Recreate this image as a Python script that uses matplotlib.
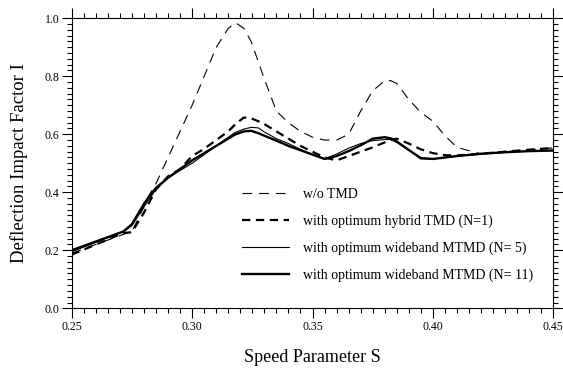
import numpy as np
import matplotlib
matplotlib.use("Agg")
from matplotlib import pyplot as plt
from matplotlib.ticker import MultipleLocator, FormatStrFormatter

plt.rcParams['font.family'] = ['Liberation Serif', 'DejaVu Serif']
plt.rcParams['lines.scale_dashes'] = False

# speed parameter S
S = [0.25, 0.2715, 0.275, 0.28, 0.2825, 0.285, 0.29, 0.295, 0.30, 0.305,
     0.31, 0.315, 0.318, 0.3215, 0.3245, 0.3275, 0.33, 0.335, 0.34, 0.345,
     0.35, 0.355, 0.36, 0.365, 0.37, 0.375, 0.38, 0.3825, 0.385, 0.39,
     0.395, 0.40, 0.405, 0.41, 0.42, 0.43, 0.44, 0.45]

no_tmd = [0.19, 0.255, 0.265, 0.35, 0.395, 0.43, 0.52, 0.61, 0.70, 0.80,
          0.90, 0.965, 0.985, 0.965, 0.92, 0.85, 0.79, 0.68, 0.64, 0.61,
          0.59, 0.58, 0.58, 0.60, 0.68, 0.75, 0.785, 0.785, 0.775, 0.72,
          0.675, 0.645, 0.595, 0.555, 0.532, 0.54, 0.547, 0.553]

hybrid_n1 = [0.185, 0.26, 0.262, 0.33, 0.37, 0.41, 0.455, 0.48, 0.525, 0.55,
             0.58, 0.61, 0.635, 0.658, 0.655, 0.645, 0.635, 0.61, 0.585, 0.56,
             0.54, 0.52, 0.51, 0.525, 0.54, 0.555, 0.572, 0.58, 0.585, 0.568,
             0.548, 0.535, 0.528, 0.527, 0.533, 0.54, 0.547, 0.553]

mtmd_n5 = [0.195, 0.265, 0.285, 0.35, 0.38, 0.41, 0.45, 0.475, 0.50, 0.53,
           0.56, 0.59, 0.607, 0.618, 0.624, 0.622, 0.608, 0.585, 0.568, 0.548,
           0.53, 0.515, 0.532, 0.552, 0.568, 0.578, 0.582, 0.582, 0.572, 0.545,
           0.52, 0.515, 0.52, 0.525, 0.532, 0.538, 0.542, 0.545]

mtmd_n11 = [0.2, 0.265, 0.29, 0.36, 0.39, 0.415, 0.45, 0.48, 0.51, 0.535,
            0.56, 0.585, 0.60, 0.61, 0.612, 0.604, 0.595, 0.578, 0.56, 0.545,
            0.53, 0.515, 0.525, 0.542, 0.562, 0.585, 0.59, 0.586, 0.575, 0.546,
            0.517, 0.515, 0.52, 0.525, 0.533, 0.538, 0.542, 0.544]

labels = ["w/o TMD",
          "with optimum hybrid TMD (N=1)",
          "with optimum wideband MTMD (N= 5)",
          "with optimum wideband MTMD (N= 11)"]

fig = plt.figure(figsize=(5.63, 3.71), dpi=100)
ax = fig.add_axes([0.1274, 0.169, 0.8554, 0.7817])

ax.plot(S, no_tmd, color='black', lw=0.8, dashes=(7, 5), label=labels[0])
ax.plot(S, hybrid_n1, color='black', lw=1.6, dashes=(6, 4), label=labels[1])
ax.plot(S, mtmd_n5, color='black', lw=0.8, label=labels[2])
ax.plot(S, mtmd_n11, color='black', lw=1.7, label=labels[3])

ax.set_xlim(0.25, 0.45)
ax.set_ylim(0.0, 1.0)
ax.xaxis.set_major_locator(MultipleLocator(0.05))
ax.xaxis.set_minor_locator(MultipleLocator(0.005))
ax.yaxis.set_major_locator(MultipleLocator(0.2))
ax.yaxis.set_minor_locator(MultipleLocator(0.02))
ax.xaxis.set_major_formatter(FormatStrFormatter('%.2f'))
ax.yaxis.set_major_formatter(FormatStrFormatter('%.1f'))
ax.tick_params(which='both', direction='out', top=True, right=True,
               labelsize=8.5, width=0.8, pad=2)
ax.tick_params(which='major', length=7)
ax.tick_params(which='minor', length=3.5)
for sp in ax.spines.values():
    sp.set_linewidth(0.8)

ax.set_xlabel("Speed Parameter S", fontsize=13, labelpad=12)
ax.set_ylabel("Deflection Impact Factor I", fontsize=13.5, labelpad=12)

ax.legend(frameon=False, fontsize=10, loc='upper left', borderpad=0,
          bbox_to_anchor=(235 / 563, 1 - 181 / 371), bbox_transform=fig.transFigure,
          handlelength=3.4, handletextpad=1.0, labelspacing=0.97)

fig.savefig("out.png", dpi=100)
